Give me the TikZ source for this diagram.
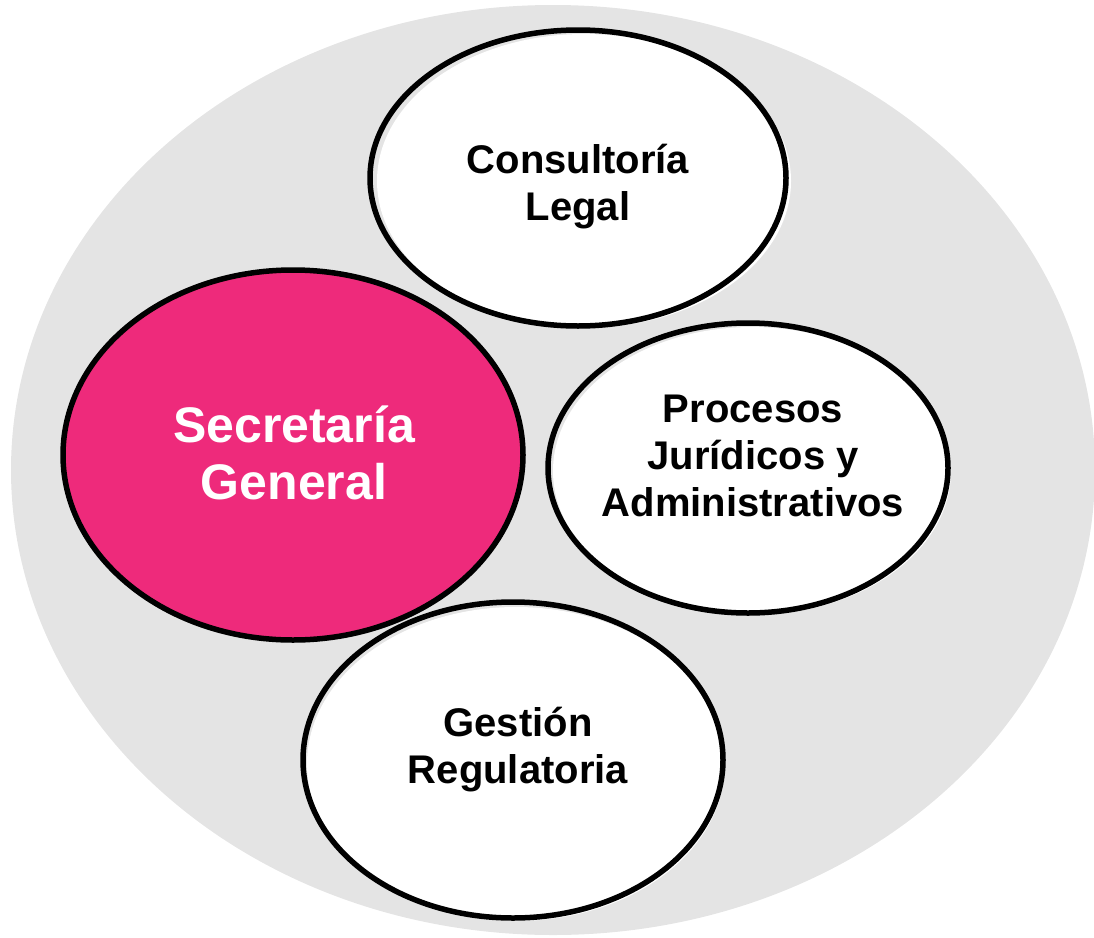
\documentclass[tikz,border=0pt]{standalone}
\usepackage{fontspec}
\setmainfont{Liberation Sans}
\usetikzlibrary{shapes.geometric}
\definecolor{bggrey}{HTML}{E4E4E4}
\definecolor{sgpink}{HTML}{EE2A7B}
\begin{document}
\begin{tikzpicture}[x=1pt,y=-1pt,
  bubble/.style={ellipse, draw=black, line width=5.5pt, inner sep=0pt},
  halo/.style={fill=white},
  lbl/.style={font=\bfseries\fontsize{40}{47}\selectfont, align=center, text=black, inner sep=0pt},
  biglbl/.style={font=\bfseries\fontsize{50}{57}\selectfont, align=center, text=white, inner sep=0pt}]
\useasboundingbox (0,0) rectangle (1094,937);
\fill[bggrey] (553,470) ellipse [x radius=542, y radius=465];

% white fills slightly offset (hand-cut look)
\fill[halo] (584,181) ellipse [x radius=207, y radius=147];
\fill[halo] (752,471) ellipse [x radius=199, y radius=144];
\fill[halo] (516,764) ellipse [x radius=209, y radius=157];

\node[bubble, minimum width=416pt, minimum height=296pt] (cl) at (578,178) {};
\node[bubble, fill=sgpink, minimum width=460pt, minimum height=370pt] (sg) at (293,455) {};
\node[bubble, minimum width=400pt, minimum height=290pt] (pj) at (748,468) {};
\node[bubble, minimum width=420pt, minimum height=316pt] (gr) at (513,760) {};

\node[lbl] (clt) at (578,187) {Consultoría\\Legal};
\node[biglbl] (sgt) at (294,453) {Secretaría\\General};
\node[lbl] (pjt) at (753,456) {Procesos\\Jurídicos y\\Administrativos};
\node[lbl] (grt) at (518,750) {Gestión\\Regulatoria};
\end{tikzpicture}
\end{document}
